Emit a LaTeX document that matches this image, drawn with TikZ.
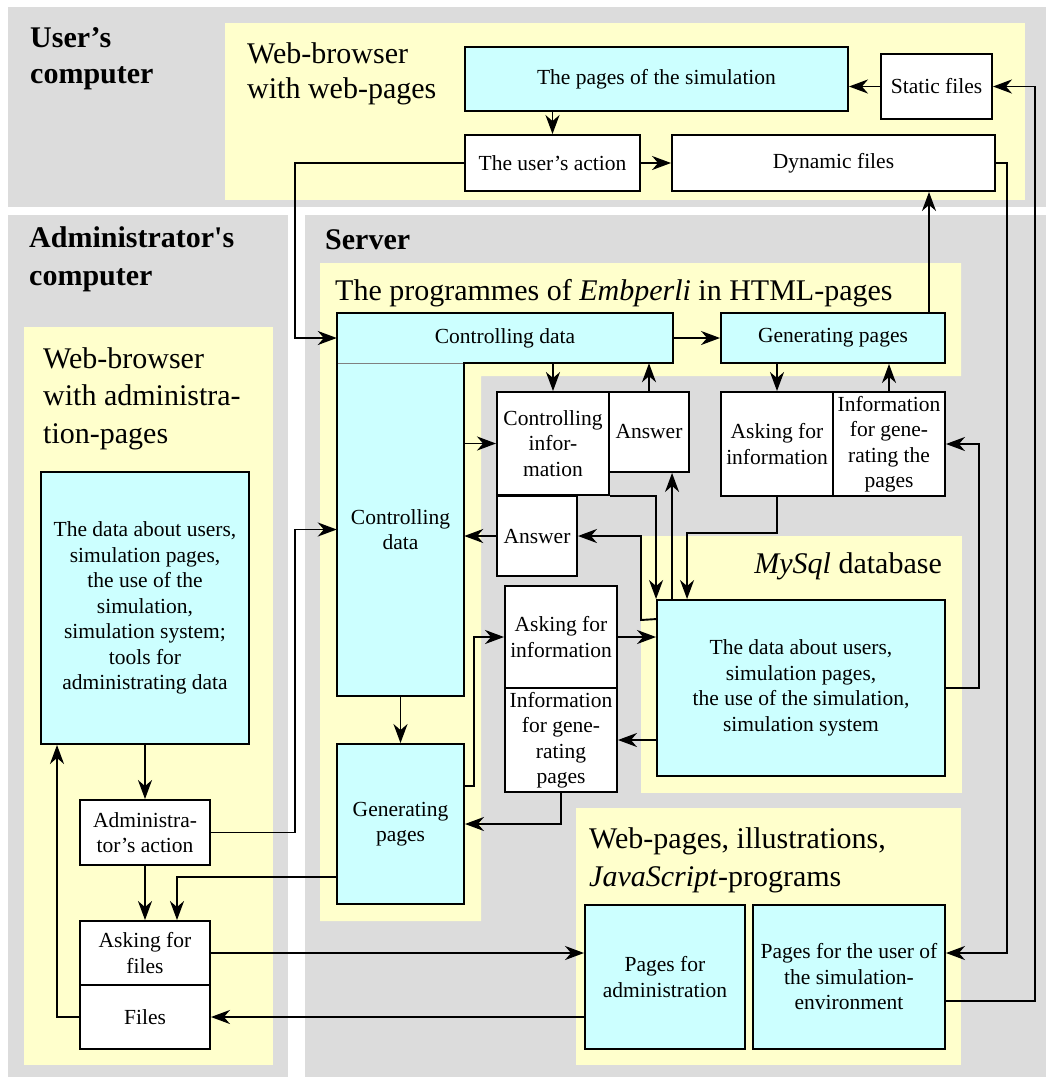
\documentclass[tikz,border=0pt]{standalone}
\usepackage{fontspec}
\setmainfont{Liberation Serif}
\usetikzlibrary{arrows.meta}
\definecolor{panelgray}{RGB}{220,220,220}
\definecolor{paleyellow}{RGB}{255,255,204}
\definecolor{palecyan}{RGB}{204,255,255}
\newcommand{\bxfont}{\fontsize{21.5}{25.5}\selectfont}
\newcommand{\ttlfont}{\fontsize{30}{36}\selectfont}
\begin{document}
\begin{tikzpicture}[x=1pt,y=-1pt,
  box/.style={draw=black,line width=1.9pt,inner sep=0pt,align=center,font=\bxfont},
  cbox/.style={box,fill=palecyan},
  wbox/.style={box,fill=white},
  tbox/.style={inner sep=0pt,align=center,font=\bxfont},
  arr/.style={draw=black,line width=1.9pt,-{Stealth[length=19pt,width=14pt,inset=6pt]}},
  ttl/.style={anchor=base west,inner sep=0pt,font=\ttlfont},
  bttl/.style={anchor=base west,inner sep=0pt,font=\ttlfont\bfseries},
  gpanel/.style={fill=panelgray},
  ypanel/.style={fill=paleyellow}]
\useasboundingbox (0,0) rectangle (1046,1077);
% gray panels
\fill[gpanel] (8,7) rectangle (1046,207);
\fill[gpanel] (8,215) rectangle (288,1077);
\fill[gpanel] (305,215) rectangle (1046,1077);
% yellow panels
\fill[ypanel] (225,23) rectangle (1025,200);
\fill[ypanel] (24,327) rectangle (273,1065);
\fill[ypanel] (320,263) -- (961,263) -- (961,376) -- (481,376) -- (481,921) -- (320,921) -- cycle;
\fill[ypanel] (641,536) rectangle (962,793);
\fill[ypanel] (576,808) rectangle (961,1065);
% titles
\node[bttl] (tuser1) at (30,47) {User’s};
\node[bttl] (tuser2) at (30,83) {computer};
\node[bttl] (tadm1) at (29,247) {Administrator\textquotesingle s};
\node[bttl] (tadm2) at (29,285) {computer};
\node[bttl] (tserver) at (325,249) {Server};
\node[ttl] (twb1) at (247,63) {Web-browser};
\node[ttl] (twb2) at (247,98) {with web-pages};
\node[ttl] (tawb1) at (43,368) {Web-browser};
\node[ttl] (tawb2) at (43,405) {with administra-};
\node[ttl] (tawb3) at (43,443) {tion-pages};
\node[ttl] (tprog) at (335,300) {The programmes of \textit{Embperli} in HTML-pages};
\node[ttl,anchor=base east] (tmysql) at (942,573) {\textit{MySql} database};
\node[ttl] (tweb1) at (589,848) {Web-pages, illustrations,};
\node[ttl] (tweb2) at (589,886) {\textit{JavaScript}-programs};
% L-shaped controlling data block
\fill[palecyan] (337,313) -- (673,313) -- (673,363) -- (464,363) -- (464,696) -- (337,696) -- cycle;
\draw[gray,line width=0.7pt] (337,363) -- (464,363);
\draw[black,line width=1.9pt] (337,313) -- (673,313) -- (673,363) -- (464,363) -- (464,696) -- (337,696) -- cycle;
\node[tbox,minimum width=336pt,minimum height=50pt] (ctrltop) at (505,338) {Controlling data};
\node[tbox,minimum width=127pt,minimum height=333pt] (ctrlleft) at (400.5,529.5) {Controlling\\data};
% boxes
\node[cbox,minimum width=383pt,minimum height=64pt] (pagesim) at (656.5,79) {The pages of the simulation};
\node[wbox,minimum width=111pt,minimum height=65pt] (static) at (936.5,86.5) {Static files};
\node[wbox,minimum width=175pt,minimum height=56pt] (useract) at (552.5,163) {The user’s action};
\node[wbox,minimum width=323pt,minimum height=56pt] (dynamic) at (833.5,163) {Dynamic files};
\node[cbox,minimum width=224pt,minimum height=50pt] (gentop) at (833,338) {Generating pages};
\node[wbox,minimum width=112pt,minimum height=103pt] (ctrlinfo) at (553,443.5) {Controlling\\infor-\\mation};
\node[wbox,minimum width=80pt,minimum height=80pt] (ans1) at (649,432) {Answer};
\node[wbox,minimum width=80pt,minimum height=80pt] (ans2) at (537,536) {Answer};
\node[wbox,minimum width=112pt,minimum height=104pt] (askinfo1) at (777,444) {Asking for\\information};
\node[wbox,minimum width=112pt,minimum height=104pt] (info1) at (889,444) {Information\\for gene-\\rating the\\pages};
\node[cbox,minimum width=288pt,minimum height=176pt] (db) at (801,688) {The data about users,\\simulation pages,\\the use of the simulation,\\simulation system};
\node[wbox,minimum width=112pt,minimum height=102pt] (askinfo2) at (561,637) {Asking for\\information};
\node[wbox,minimum width=112pt,minimum height=104pt] (info2) at (561,740) {Information\\for gene-\\rating\\pages};
\node[cbox,minimum width=127pt,minimum height=160pt] (genlow) at (400.5,824) {Generating\\pages};
\node[cbox,minimum width=160pt,minimum height=144pt] (adminpg) at (665,977) {Pages for\\administration};
\node[cbox,minimum width=192pt,minimum height=144pt] (userpg) at (849,977) {Pages for the user of\\the simulation-\\environment};
\node[cbox,minimum width=208pt,minimum height=272pt] (admdata) at (145,608) {The data about users,\\simulation pages,\\the use of the\\simulation,\\simulation system;\\tools for\\administrating data};
\node[wbox,minimum width=130pt,minimum height=65pt] (admact) at (145,832.5) {Administra-\\tor’s action};
\node[wbox,minimum width=130pt,minimum height=64pt] (askfiles) at (145,953) {Asking for\\files};
\node[wbox,minimum width=130pt,minimum height=64pt] (files) at (145,1017) {Files};
% connectors
\draw[arr] (pagesim.south -| useract.north) -- (useract.north);
\draw[arr] (static.west) -- (static.west -| pagesim.east);
\draw[arr] (useract.east) -- (dynamic.west);
\draw[arr] (dynamic.east) -- (1007,163) |- ([yshift=24pt]userpg.east);
\draw[arr] ([yshift=-24pt]userpg.east) -- (1035,1001) |- (static.east);
\draw[arr] ([xshift=96pt]gentop.north) -- ([xshift=96pt]gentop.north |- dynamic.south);
\draw[arr] (useract.west) -- (295,163) |- (ctrltop.west);
\draw[arr] (ctrltop.east) -- (gentop.west);
\draw[arr] (ctrlinfo.north |- ctrltop.south) -- (ctrlinfo.north);
\draw[arr] (ans1.north) -- (ans1.north |- ctrltop.south);
\draw[arr] (ctrlinfo.west -| ctrlleft.east) -- (ctrlinfo.west);
\draw[arr] (ans2.west) -- (ans2.west -| ctrlleft.east);
\draw[arr] (askinfo1.north |- gentop.south) -- (askinfo1.north);
\draw[arr] (info1.north) -- (info1.north |- gentop.south);
\draw[arr] (ctrlinfo.south east) -| (db.north west);
\draw[arr] ([xshift=16pt]db.north west) -- ([xshift=16pt]db.north west |- ans1.south);
\draw[arr] (askinfo1.south) -- (777,533) -| ([xshift=31pt]db.north west);
\draw[arr] ([yshift=-20pt]db.north west) -- (641,620) |- (ans2.east);
\draw[arr] (db.east) -- (979,688) |- (info1.east);
\draw[arr] ([yshift=38pt]genlow.east) -- (474,786) |- (askinfo2.west);
\draw[arr] (askinfo2.east) -- (askinfo2.east -| db.west);
\draw[arr] (info2.east -| db.west) -- (info2.east);
\draw[arr] (info2.south) |- (genlow.east);
\draw[arr] (genlow.north |- ctrlleft.south) -- (genlow.north);
\draw[arr] (admact.east) -- (295,832.5) |- (ctrlleft.west);
\draw[arr] (admdata.south) -- (admact.north);
\draw[arr] (admact.south) -- (askfiles.north);
\draw[arr] ([yshift=-53pt]genlow.west) -| ([xshift=32pt]askfiles.north);
\draw[arr] (askfiles.east) -- (askfiles.east -| adminpg.west);
\draw[arr] (files.east -| adminpg.west) -- (files.east);
\draw[arr] (files.west) -| ([xshift=-88pt]admdata.south);
\end{tikzpicture}
\end{document}
